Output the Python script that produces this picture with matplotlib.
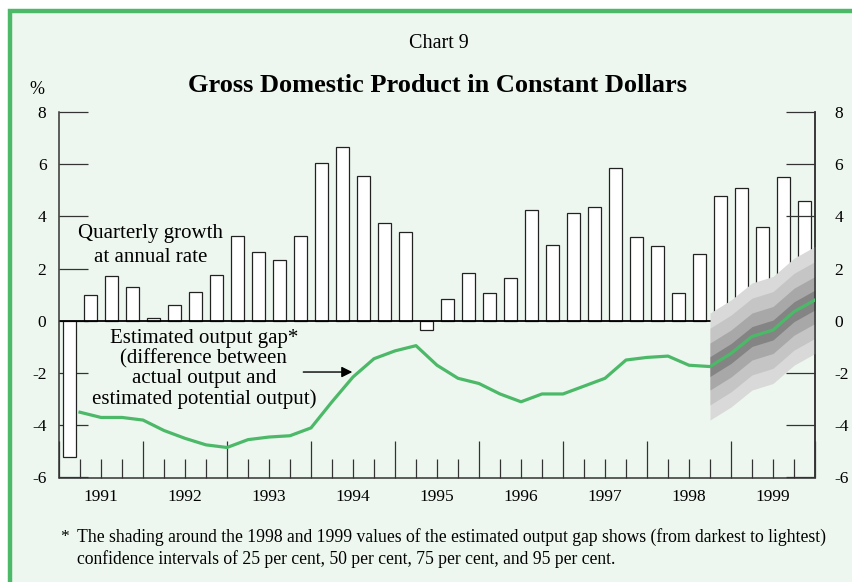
import numpy as np
import matplotlib.pyplot as plt
from matplotlib.patches import Rectangle
from matplotlib.transforms import blended_transform_factory

plt.rcParams['font.family'] = ['Liberation Serif', 'DejaVu Serif']

# quarterly GDP growth at annual rate, 1991Q1 - 1999Q4
growth = [-5.2, 1.0, 1.7, 1.3,
          0.1, 0.6, 1.1, 1.75,
          3.25, 2.65, 2.35, 3.25,
          6.05, 6.65, 5.55, 3.75,
          3.4, -0.35, 0.85, 1.85,
          1.05, 1.65, 4.25, 2.9,
          4.15, 4.35, 5.85, 3.2,
          2.85, 1.05, 2.55, 4.8,
          5.1, 3.6, 5.5, 4.6]

# estimated output gap (end of each quarter)
gap = [-3.5, -3.7, -3.7, -3.8,
       -4.2, -4.5, -4.75, -4.85,
       -4.55, -4.45, -4.4, -4.1,
       -3.1, -2.15, -1.45, -1.15,
       -0.95, -1.7, -2.2, -2.4,
       -2.8, -3.1, -2.8, -2.8,
       -2.5, -2.2, -1.5, -1.4,
       -1.35, -1.7, -1.75, -1.25,
       -0.6, -0.35, 0.35, 0.8]

years = ['1991', '1992', '1993', '1994', '1995', '1996', '1997', '1998', '1999']

# half widths of confidence bands 25, 50, 75, 95 per cent
band_level = [25, 50, 75, 95]
band_half = [0.38, 0.9, 1.47, 2.05]
band_color = ['#848484', '#a8a8a8', '#c5c5c5', '#d9d9d9']
fan_start = 30  # index of first shaded quarter (1998Q3)

bg = '#edf7ef'
green = '#4cb968'
dark = '#333333'

fig = plt.figure(figsize=(8.53, 5.82), dpi=100)
fig.patches.append(Rectangle((10.5 / 853, -0.2), 1.2, 1.2 - 11 / 582,
                             transform=fig.transFigure, facecolor=bg,
                             edgecolor=green, linewidth=3.2, zorder=-10))

ax = fig.add_axes([59 / 853, 1 - 477.5 / 582, (815 - 59) / 853, (477.5 - 112) / 582])
ax.patch.set_visible(False)

n = len(growth)
xb = np.arange(n) + 0.5
xg = np.arange(1, n + 1)

ax.bar(xb, growth, width=0.6, color='white', edgecolor='#222222',
       linewidth=0.9, zorder=1.6)
ax.axhline(0, color='black', linewidth=1.3, zorder=1.7)

c = np.array(gap[fan_start:])
xf = xg[fan_start:]
for w, col in sorted(zip(band_half, band_color), reverse=True):
    ax.fill_between(xf, c - w, c + w, color=col, linewidth=0, zorder=2)

ax.plot(xg, gap, color=green, linewidth=2.3, zorder=3)

ax.set_xlim(0, n)
ax.set_ylim(-6, 8)
ax.set_yticks(np.arange(-6, 9, 2))
ax.set_yticklabels([str(v) for v in range(-6, 9, 2)])
ax.set_xticks(np.arange(0, n + 1, 4))
ax.set_xticks(np.arange(0, n + 1, 1), minor=True)
ax.set_xticklabels([])
ax.tick_params(axis='x', which='major', direction='in', length=27, width=0.9, color=dark)
ax.tick_params(axis='x', which='minor', direction='in', length=13.5, width=0.9, color=dark)
ax.tick_params(axis='y', direction='in', length=21, width=0.9, color=dark,
               labelsize=12.5, pad=9, right=False)
for s in ['left', 'bottom', 'right']:
    ax.spines[s].set_color(dark)
    ax.spines[s].set_linewidth(1.1)
ax.spines['top'].set_visible(False)

sec = ax.secondary_yaxis('right')
sec.set_zorder(1.8)
sec.set_yticks(np.arange(-6, 9, 2))
sec.set_yticklabels([str(v) for v in range(-6, 9, 2)])
sec.tick_params(direction='in', length=21, width=0.9, color=dark, labelsize=12.5, pad=14)
sec.spines['right'].set_color(dark)
sec.spines['right'].set_linewidth(1.1)

tr = blended_transform_factory(ax.transData, fig.transFigure)
for i, y in enumerate(years):
    ax.text(i * 4 + 2, 1 - 497 / 582, y, transform=tr, ha='center', va='center', fontsize=12.5)

ax.text(4.35, 2.9, 'Quarterly growth\nat annual rate', ha='center', va='center',
        fontsize=15, linespacing=1.35)
ax.text(6.9, -1.85, 'Estimated output gap*\n(difference between\nactual output and\nestimated potential output)',
        ha='center', va='center', fontsize=15, linespacing=1.05)
ax.annotate('', xy=(14.1, -1.96), xytext=(11.5, -1.96),
            arrowprops=dict(arrowstyle='-|>', color='black', lw=1.0, mutation_scale=16))

fig.text(439 / 853, 1 - 44 / 582, 'Chart 9', ha='center', va='center', fontsize=14.5)
fig.text(438 / 853, 1 - 85 / 582, 'Gross Domestic Product in Constant Dollars',
         ha='center', va='center', fontsize=19, fontweight='bold')
fig.text(37 / 853, 1 - 90 / 582, '%', ha='center', va='center', fontsize=13)

fig.text(60 / 853, 1 - 537 / 582, '*', ha='left', va='center', fontsize=12.5)
fig.text(77 / 853, 1 - 537 / 582,
         'The shading around the 1998 and 1999 values of the estimated output gap shows (from darkest to lightest)',
         ha='left', va='center', fontsize=12.7)
fig.text(77 / 853, 1 - 559 / 582,
         'confidence intervals of 25 per cent, 50 per cent, 75 per cent, and 95 per cent.',
         ha='left', va='center', fontsize=12.7)

fig.savefig('out.png', dpi=100)
